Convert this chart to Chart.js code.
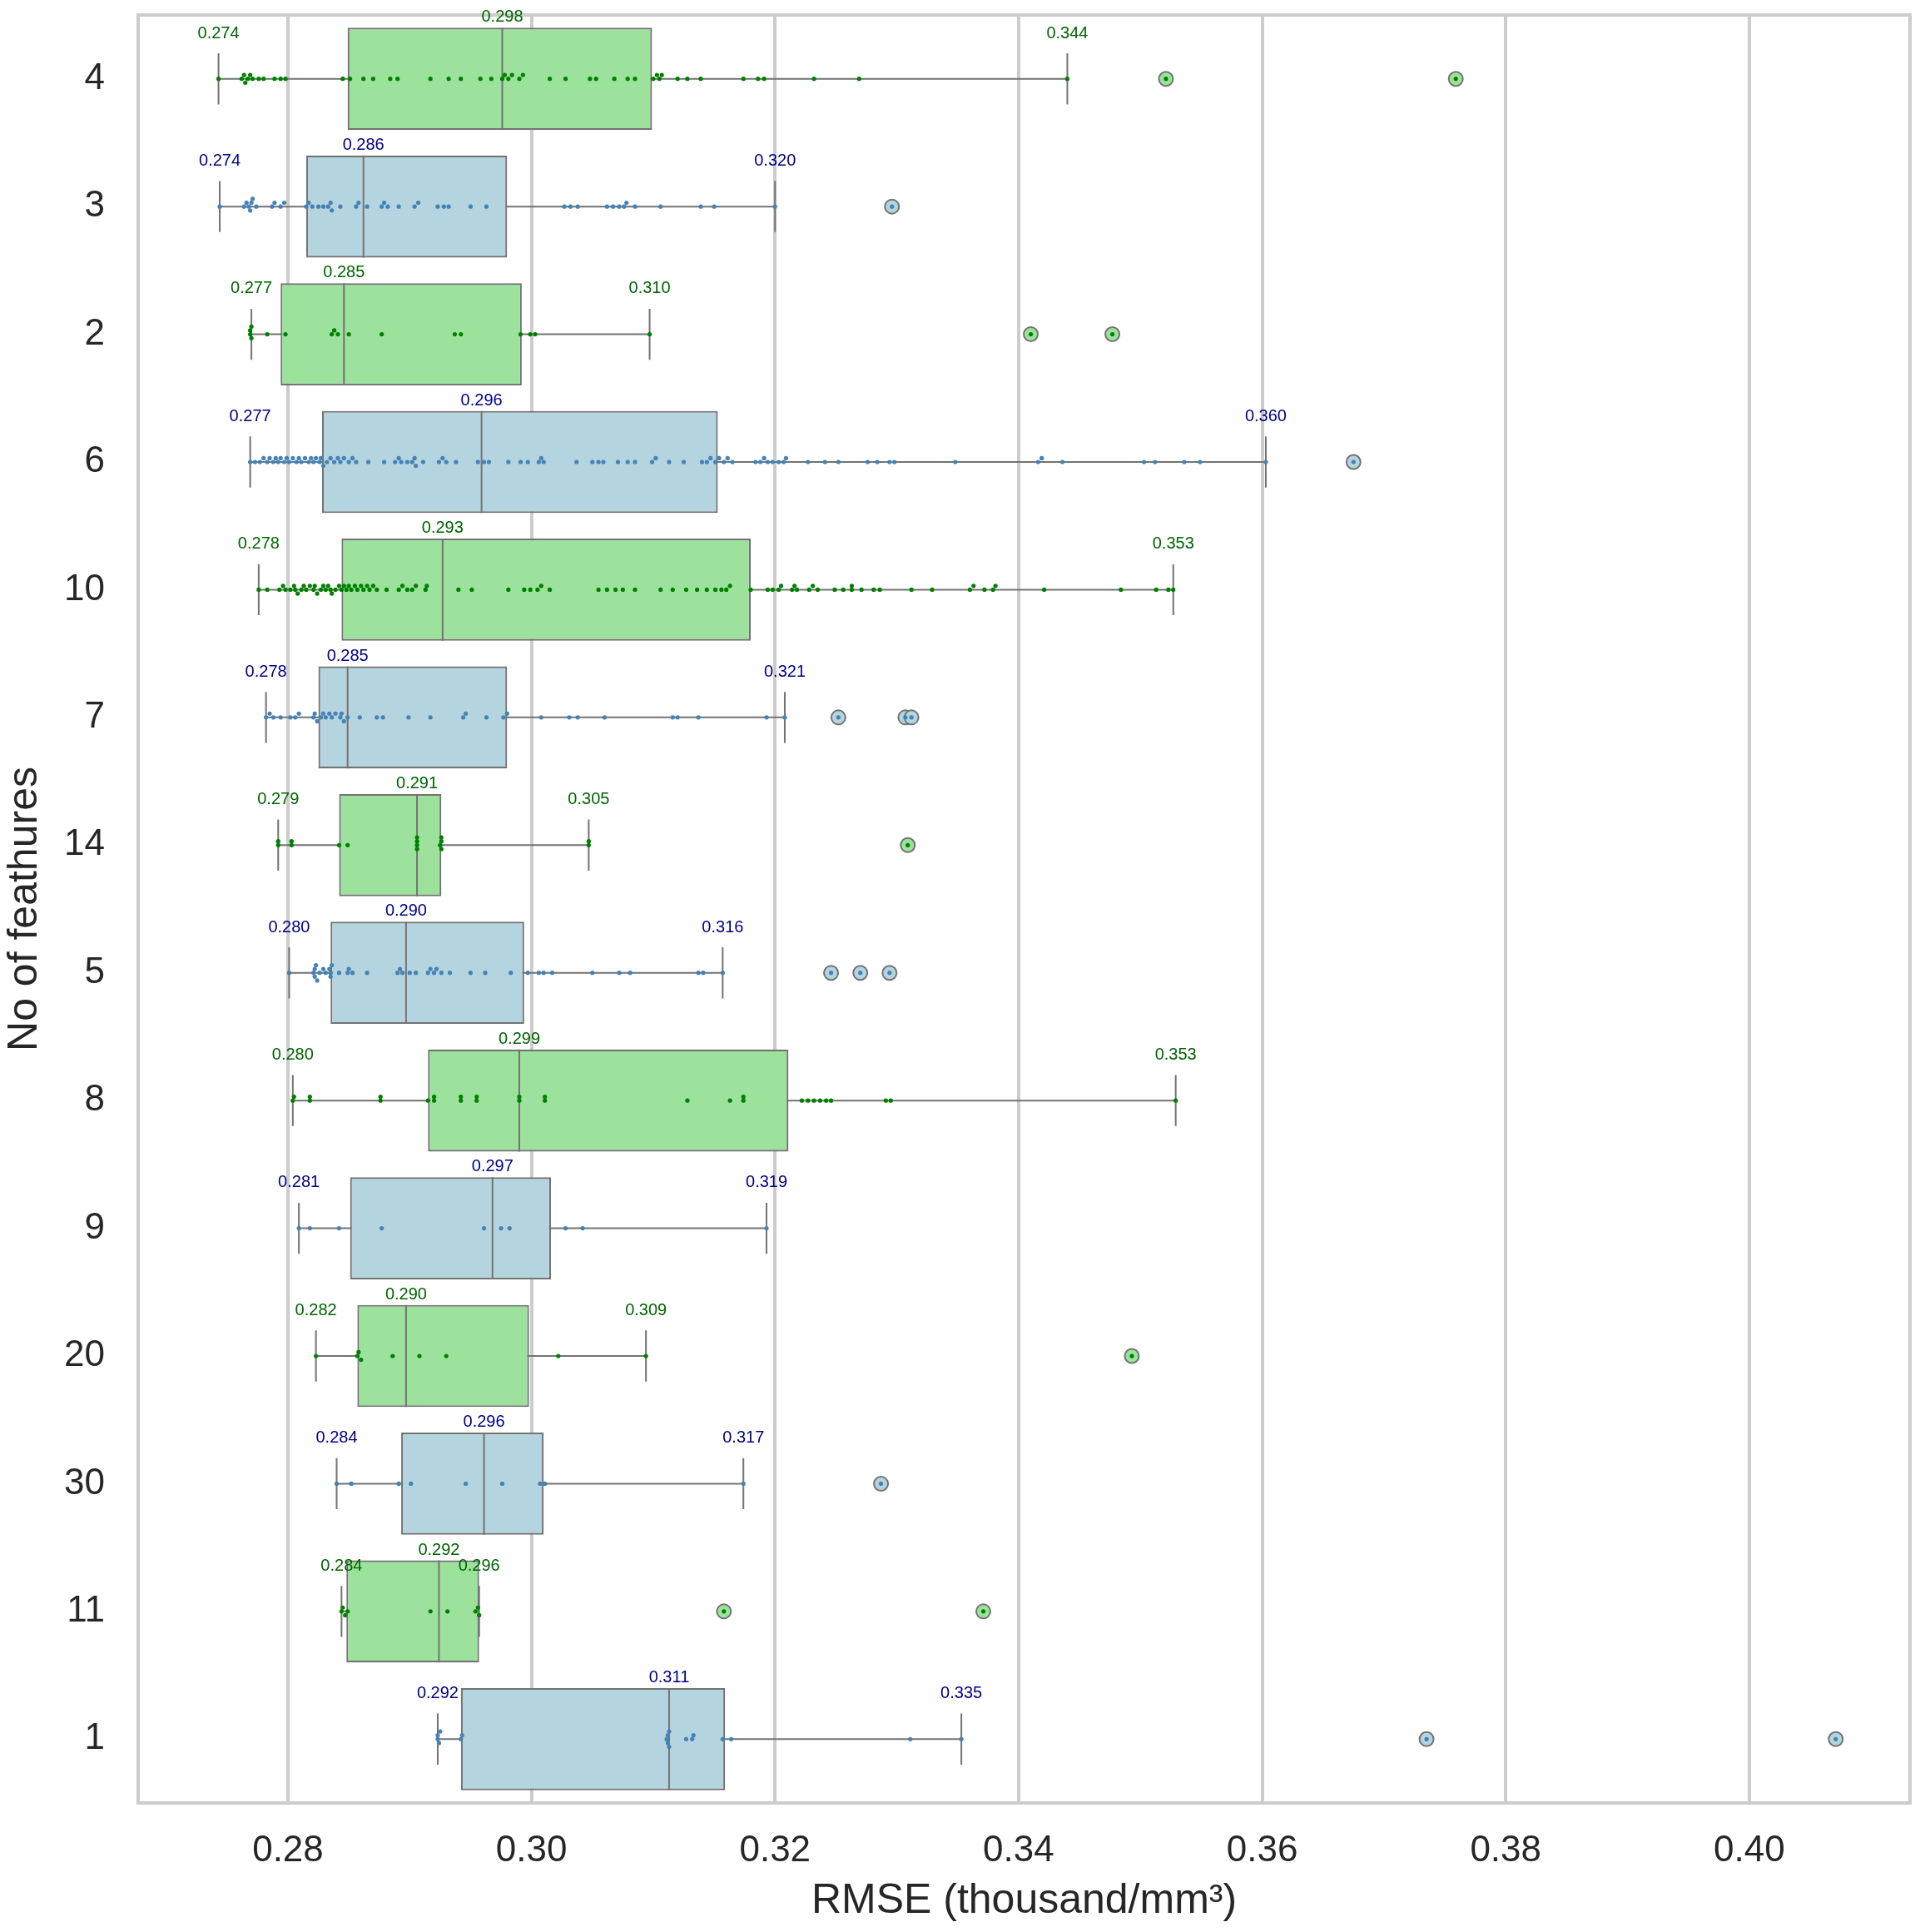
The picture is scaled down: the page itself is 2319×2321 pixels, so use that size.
<!DOCTYPE html>
<html>
<head>
<meta charset="utf-8">
<script src="https://cdn.jsdelivr.net/npm/chart.js@4.4.1/dist/chart.umd.min.js"></script>
<style>
  html, body { margin: 0; padding: 0; background: #fff; }
</style>
</head>
<body>
<canvas id="chart" width="2319" height="2321"></canvas>
<script>
// rows, top to bottom
const categories = ['4', '3', '2', '6', '10', '7', '14', '5', '8', '9', '20', '30', '11', '1'];

const whiskerLow  = [0.2743, 0.2744, 0.2770, 0.2769, 0.2776, 0.2782, 0.2792, 0.2801, 0.2804, 0.2809, 0.2823, 0.2840, 0.2844, 0.2923];
const q1          = [0.2849, 0.2815, 0.2794, 0.2828, 0.2844, 0.2825, 0.2842, 0.2835, 0.2915, 0.2851, 0.2857, 0.2893, 0.2848, 0.2942];
const median      = [0.2976, 0.2862, 0.2846, 0.2959, 0.2927, 0.2849, 0.2906, 0.2897, 0.2990, 0.2968, 0.2897, 0.2961, 0.2924, 0.3113];
const q3          = [0.3099, 0.2980, 0.2992, 0.3153, 0.3180, 0.2980, 0.2926, 0.2994, 0.3211, 0.3016, 0.2998, 0.3010, 0.2957, 0.3159];
const whiskerHigh = [0.3440, 0.3200, 0.3097, 0.3603, 0.3527, 0.3208, 0.3047, 0.3157, 0.3529, 0.3193, 0.3094, 0.3174, 0.2957, 0.3353];

const outliers = [
  [0.3521, 0.3759],
  [0.3296],
  [0.3410, 0.3477],
  [0.3675],
  [],
  [0.3252, 0.3307, 0.3312],
  [0.3309],
  [0.3246, 0.3270, 0.3294],
  [],
  [],
  [0.3493],
  [0.3287],
  [0.3158, 0.3371],
  [0.3735, 0.4071]
];

// individual runs (outliers are added from the list above)
const points = [
  [0.2743, 0.2762, 0.2764, 0.2765, 0.2767, 0.2769, 0.2771, 0.2776, 0.2780, 0.2789, 0.2794, 0.2798, 0.2845, 0.2851,
   0.2862, 0.2870, 0.2884, 0.2890, 0.2917, 0.2932, 0.2942, 0.2958, 0.2967, 0.2976, 0.2978, 0.2981, 0.2984, 0.2990,
   0.2993, 0.3015, 0.3028, 0.3048, 0.3053, 0.3068, 0.3079, 0.3085, 0.3100, 0.3103, 0.3105, 0.3107, 0.3120, 0.3128,
   0.3139, 0.3174, 0.3186, 0.3191, 0.3232, 0.3269, 0.3440],
  [0.2744, 0.2764, 0.2766, 0.2768, 0.2769, 0.2770, 0.2771, 0.2774, 0.2787, 0.2789, 0.2794, 0.2797, 0.2815, 0.2817,
   0.2820, 0.2825, 0.2829, 0.2833, 0.2835, 0.2836, 0.2843, 0.2856, 0.2858, 0.2865, 0.2877, 0.2879, 0.2882, 0.2891,
   0.2904, 0.2907, 0.2923, 0.2928, 0.2932, 0.2950, 0.2963, 0.3027, 0.3032, 0.3038, 0.3062, 0.3067, 0.3072, 0.3076,
   0.3078, 0.3085, 0.3106, 0.3139, 0.3150, 0.3200],
  [0.2769, 0.2769, 0.2770, 0.2770, 0.2783, 0.2798, 0.2836, 0.2838, 0.2841, 0.2850, 0.2877, 0.2937, 0.2942, 0.2991,
   0.2999, 0.3003, 0.3097],
  [0.2769, 0.2773, 0.2777, 0.2780, 0.2783, 0.2785, 0.2788, 0.2790, 0.2792, 0.2794, 0.2797, 0.2799, 0.2801, 0.2804,
   0.2807, 0.2809, 0.2811, 0.2814, 0.2817, 0.2819, 0.2821, 0.2823, 0.2826, 0.2827, 0.2829, 0.2832, 0.2835, 0.2838,
   0.2841, 0.2843, 0.2846, 0.2850, 0.2853, 0.2856, 0.2866, 0.2879, 0.2888, 0.2891, 0.2893, 0.2898, 0.2902, 0.2904,
   0.2905, 0.2911, 0.2924, 0.2927, 0.2930, 0.2938, 0.2956, 0.2961, 0.2965, 0.2981, 0.2991, 0.2997, 0.3006, 0.3008,
   0.3010, 0.3037, 0.3050, 0.3055, 0.3059, 0.3071, 0.3079, 0.3085, 0.3099, 0.3102, 0.3113, 0.3125, 0.3140, 0.3144,
   0.3147, 0.3151, 0.3154, 0.3158, 0.3161, 0.3165, 0.3184, 0.3188, 0.3191, 0.3194, 0.3198, 0.3203, 0.3207, 0.3209,
   0.3227, 0.3241, 0.3252, 0.3276, 0.3284, 0.3294, 0.3298, 0.3348, 0.3416, 0.3419, 0.3436, 0.3503, 0.3512, 0.3536,
   0.3549, 0.3603],
  [0.2776, 0.2783, 0.2793, 0.2796, 0.2798, 0.2802, 0.2805, 0.2806, 0.2808, 0.2811, 0.2813, 0.2815, 0.2818, 0.2821,
   0.2822, 0.2824, 0.2827, 0.2829, 0.2831, 0.2833, 0.2835, 0.2836, 0.2839, 0.2842, 0.2844, 0.2846, 0.2848, 0.2850,
   0.2852, 0.2855, 0.2857, 0.2860, 0.2862, 0.2865, 0.2867, 0.2870, 0.2873, 0.2881, 0.2891, 0.2894, 0.2898, 0.2902,
   0.2905, 0.2913, 0.2914, 0.2940, 0.2951, 0.2981, 0.2994, 0.2999, 0.3005, 0.3008, 0.3015, 0.3055, 0.3062, 0.3069,
   0.3075, 0.3085, 0.3106, 0.3116, 0.3127, 0.3136, 0.3144, 0.3151, 0.3156, 0.3160, 0.3163, 0.3180, 0.3194, 0.3198,
   0.3203, 0.3205, 0.3214, 0.3216, 0.3218, 0.3228, 0.3231, 0.3235, 0.3249, 0.3256, 0.3263, 0.3263, 0.3271, 0.3281,
   0.3286, 0.3312, 0.3329, 0.3360, 0.3363, 0.3372, 0.3379, 0.3381, 0.3421, 0.3484, 0.3513, 0.3523, 0.3527],
  [0.2782, 0.2785, 0.2788, 0.2794, 0.2802, 0.2806, 0.2809, 0.2821, 0.2822, 0.2824, 0.2827, 0.2829, 0.2831, 0.2834,
   0.2836, 0.2839, 0.2843, 0.2844, 0.2846, 0.2849, 0.2859, 0.2873, 0.2878, 0.2899, 0.2917, 0.2944, 0.2946, 0.2963,
   0.2977, 0.2980, 0.3008, 0.3031, 0.3038, 0.3060, 0.3116, 0.3120, 0.3137, 0.3193, 0.3208],
  [0.2792, 0.2792, 0.2803, 0.2803, 0.2842, 0.2849, 0.2906, 0.2906, 0.2906, 0.2906, 0.2925, 0.2926, 0.2926, 0.2926,
   0.3047, 0.3047],
  [0.2801, 0.2821, 0.2822, 0.2822, 0.2823, 0.2824, 0.2826, 0.2829, 0.2831, 0.2834, 0.2835, 0.2835, 0.2836, 0.2842,
   0.2849, 0.2850, 0.2853, 0.2865, 0.2890, 0.2892, 0.2894, 0.2900, 0.2905, 0.2915, 0.2917, 0.2920, 0.2922, 0.2926,
   0.2933, 0.2950, 0.2962, 0.2983, 0.2997, 0.3006, 0.3010, 0.3017, 0.3050, 0.3072, 0.3081, 0.3137, 0.3141, 0.3157],
  [0.2804, 0.2805, 0.2818, 0.2818, 0.2876, 0.2876, 0.2915, 0.2920, 0.2920, 0.2942, 0.2942, 0.2955, 0.2955, 0.2990,
   0.2990, 0.3011, 0.3011, 0.3128, 0.3163, 0.3174, 0.3174, 0.3222, 0.3227, 0.3232, 0.3237, 0.3242, 0.3246, 0.3291,
   0.3295, 0.3529],
  [0.2809, 0.2818, 0.2842, 0.2877, 0.2961, 0.2975, 0.2982, 0.3028, 0.3042, 0.3193],
  [0.2823, 0.2857, 0.2858, 0.2860, 0.2886, 0.2908, 0.2930, 0.3022, 0.3094],
  [0.2840, 0.2852, 0.2891, 0.2901, 0.2946, 0.2976, 0.3007, 0.3011, 0.3174],
  [0.2844, 0.2845, 0.2847, 0.2849, 0.2917, 0.2931, 0.2954, 0.2956, 0.2957],
  [0.2923, 0.2923, 0.2924, 0.2925, 0.2942, 0.2943, 0.3111, 0.3112, 0.3112, 0.3113, 0.3113, 0.3127, 0.3132, 0.3133,
   0.3157, 0.3164, 0.3311, 0.3353]
];

const xTicks = [0.28, 0.30, 0.32, 0.34, 0.36, 0.38, 0.40];
const xMin = 0.2677;
const xMax = 0.4132;

const FONT = '"Liberation Sans", Arial, Helvetica, sans-serif';
const TEXT = '#262626';
const GRID = '#cccccc';
const EDGE = '#737373';
const boxFill = ['#9ce29c', '#b4d4df'];
const dotColor = ['green', 'steelblue'];
const labelColor = ['#006400', '#000080'];

Chart.defaults.font.family = FONT;

// small swarm so that coinciding runs do not sit on top of each other
function swarm(values, row) {
  const placed = [];
  return values.slice().sort((a, b) => a - b).map(v => {
    let k = 0, off = 0;
    for (;;) {
      off = k === 0 ? 0 : (k % 2 ? -1 : 1) * Math.ceil(k / 2) * 0.03;
      const o = off;
      if (!placed.some(p => Math.abs(p.x - v) < 0.00034 && Math.abs(p.off - o) < 0.029)) break;
      k++;
    }
    placed.push({ x: v, off });
    return { x: v, y: row + off };
  });
}

const gap = { x: null, y: null };
const whiskerData = [], capData = [], medianData = [], boxData = [];
const outlierData = [], outlierColors = [];
const greenDots = [], blueDots = [];

categories.forEach((c, i) => {
  whiskerData.push({ x: whiskerLow[i], y: i }, { x: whiskerHigh[i], y: i }, gap);
  capData.push({ x: whiskerLow[i], y: i - 0.2 }, { x: whiskerLow[i], y: i + 0.2 }, gap);
  capData.push({ x: whiskerHigh[i], y: i - 0.2 }, { x: whiskerHigh[i], y: i + 0.2 }, gap);
  medianData.push({ x: median[i], y: i - 0.4 }, { x: median[i], y: i + 0.4 }, gap);
  boxData.push({ y: i, x: [q1[i], q3[i]] });
  outliers[i].forEach(v => {
    outlierData.push({ x: v, y: i });
    outlierColors.push(boxFill[i % 2]);
  });
  const dots = swarm(points[i].concat(outliers[i]), i);
  (i % 2 === 0 ? greenDots : blueDots).push(...dots);
});

const framePlugin = {
  id: 'frame',
  beforeDatasetsDraw(chart) {
    const { ctx, chartArea: a } = chart;
    ctx.save();
    ctx.strokeStyle = GRID;
    ctx.lineWidth = 4;
    ctx.strokeRect(a.left, a.top, a.right - a.left, a.bottom - a.top);
    ctx.restore();
  }
};

const valueLabels = {
  id: 'valueLabels',
  afterDatasetsDraw(chart) {
    const { ctx } = chart;
    const x = chart.scales.x, y = chart.scales.y;
    ctx.save();
    ctx.font = '20px ' + FONT;
    ctx.textAlign = 'center';
    ctx.textBaseline = 'alphabetic';
    categories.forEach((c, i) => {
      ctx.fillStyle = labelColor[i % 2];
      ctx.fillText(whiskerLow[i].toFixed(3), x.getPixelForValue(whiskerLow[i]), y.getPixelForValue(i - 0.32));
      ctx.fillText(whiskerHigh[i].toFixed(3), x.getPixelForValue(whiskerHigh[i]), y.getPixelForValue(i - 0.32));
      ctx.fillText(median[i].toFixed(3), x.getPixelForValue(median[i]), y.getPixelForValue(i - 0.445));
    });
    ctx.restore();
  }
};

const lineStyle = {
  type: 'scatter', showLine: true, spanGaps: false, pointRadius: 0,
  borderColor: EDGE, borderWidth: 2, fill: false
};

new Chart(document.getElementById('chart'), {
  type: 'scatter',
  data: {
    datasets: [
      Object.assign({ data: whiskerData, order: 7 }, lineStyle),
      Object.assign({ data: capData, order: 6 }, lineStyle),
      {
        type: 'bar', indexAxis: 'y', data: boxData, order: 5,
        backgroundColor: categories.map((c, i) => boxFill[i % 2]),
        borderColor: EDGE, borderWidth: 2.2, borderSkipped: false,
        barPercentage: 0.8, categoryPercentage: 1.0
      },
      Object.assign({ data: medianData, order: 4 }, lineStyle),
      {
        type: 'scatter', data: outlierData, order: 3,
        pointRadius: 8.5, pointBackgroundColor: outlierColors,
        pointBorderColor: EDGE, pointBorderWidth: 2
      },
      {
        type: 'scatter', data: greenDots, order: 2,
        pointRadius: 2.6, pointBackgroundColor: dotColor[0], pointBorderWidth: 0
      },
      {
        type: 'scatter', data: blueDots, order: 1,
        pointRadius: 2.6, pointBackgroundColor: dotColor[1], pointBorderWidth: 0
      }
    ]
  },
  options: {
    responsive: false,
    animation: false,
    devicePixelRatio: 1,
    layout: { padding: { top: 18, right: 24, left: 0, bottom: 0 } },
    plugins: { legend: { display: false }, tooltip: { enabled: false } },
    scales: {
      x: {
        type: 'linear', min: xMin, max: xMax, offset: false,
        afterBuildTicks: s => { s.ticks = xTicks.map(v => ({ value: v })); },
        afterFit: s => { s.height = 155; s.paddingLeft = 0; s.paddingRight = 0; },
        ticks: { callback: v => v.toFixed(2), font: { size: 44 }, color: TEXT, padding: 31, maxRotation: 0 },
        grid: { color: GRID, lineWidth: 4, drawTicks: false, offset: false },
        border: { display: false },
        title: { display: true, text: 'RMSE (thousand/mm³)', font: { size: 50 }, color: TEXT, padding: { top: 0, bottom: 7 } }
      },
      y: {
        type: 'linear', reverse: true, min: -0.5, max: 13.5, offset: false,
        afterBuildTicks: s => { s.ticks = categories.map((c, i) => ({ value: i })); },
        afterFit: s => { s.width = 166; s.paddingTop = 0; s.paddingBottom = 0; },
        ticks: { callback: v => categories[Math.round(v)], font: { size: 44 }, color: TEXT, padding: 40 },
        grid: { display: false, drawTicks: false, offset: false },
        border: { display: false },
        title: { display: true, text: 'No of feathures', font: { size: 50 }, color: TEXT, padding: { top: 0, bottom: 0 } }
      }
    }
  },
  plugins: [framePlugin, valueLabels]
});
</script>
</body>
</html>
